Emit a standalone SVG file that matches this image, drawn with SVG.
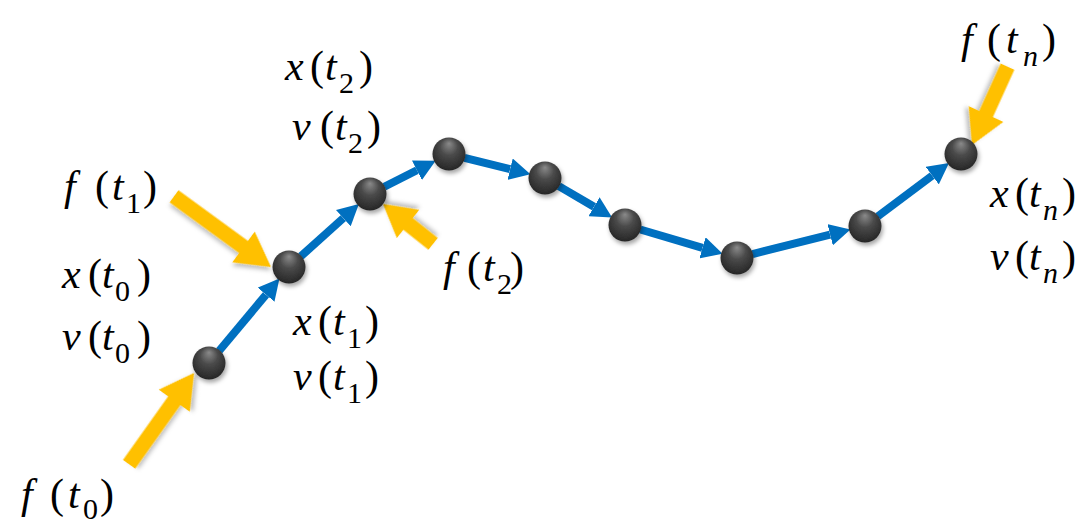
<svg xmlns="http://www.w3.org/2000/svg" width="1084" height="526" viewBox="0 0 1084 526">
<style>
.lbl{font-size:42px;fill:#000}
.i{font-style:italic}
.s{font-size:30px}
.conn{stroke:#0070C0;stroke-width:8;fill:none;marker-end:url(#bh)}
.yarrow{fill:#FFC000;filter:url(#ysh)}
.node{fill:url(#ng);filter:url(#nsh)}
</style>
<defs>
<radialGradient id="ng" cx="0.5" cy="0.4" r="0.6" fx="0.5" fy="0.18">
<stop offset="0" stop-color="#8a8a8a"/>
<stop offset="0.45" stop-color="#4a4a4a"/>
<stop offset="1" stop-color="#262626"/>
</radialGradient>
<filter id="nsh" x="-50%" y="-50%" width="200%" height="200%">
<feDropShadow dx="1.5" dy="3" stdDeviation="2" flood-color="#000" flood-opacity="0.35"/>
</filter>
<filter id="ysh" x="-30%" y="-30%" width="160%" height="160%">
<feDropShadow dx="2" dy="3" stdDeviation="2" flood-color="#000" flood-opacity="0.25"/>
</filter>
<marker id="bh" markerUnits="userSpaceOnUse" viewBox="0 -11 21 22" refX="0" refY="0" markerWidth="21" markerHeight="22" orient="auto">
<path d="M0,-11 L21,0 L0,11 z" fill="#0070C0"/>
</marker>
</defs>

<g id="connectors">
<line class="conn" x1="219.2" y1="350.7" x2="266.0" y2="294.7"/>
<line class="conn" x1="300.9" y1="256.3" x2="343.3" y2="218.1"/>
<line class="conn" x1="384.3" y1="186.8" x2="416.9" y2="170.3"/>
<line class="conn" x1="464.5" y1="157.9" x2="510.1" y2="169.2"/>
<line class="conn" x1="558.8" y1="186.1" x2="594.0" y2="206.8"/>
<line class="conn" x1="640.3" y1="229.5" x2="702.5" y2="247.8"/>
<line class="conn" x1="752.5" y1="254.1" x2="830.1" y2="234.7"/>
<line class="conn" x1="877.8" y1="216.4" x2="932.2" y2="175.6"/>
</g>

<g id="forces">
<g id="f0" transform="translate(194,373) rotate(-54.6)"><polygon class="yarrow" points="0,0 -34,-19 -34,-7.5 -112,-7.5 -112,7.5 -34,7.5 -34,19"/></g>
<g id="f1" transform="translate(271,267) rotate(36.1)"><polygon class="yarrow" points="0,0 -34,-19 -34,-7.5 -120,-7.5 -120,7.5 -34,7.5 -34,19"/></g>
<g id="f2" transform="translate(383,204) rotate(-141.5)"><polygon class="yarrow" points="0,0 -32,-18 -32,-7.5 -64,-7.5 -64,7.5 -32,7.5 -32,18"/></g>
<g id="fn" transform="translate(972,145) rotate(114.4)"><polygon class="yarrow" points="0,0 -34,-19 -34,-7.5 -86,-7.5 -86,7.5 -34,7.5 -34,19"/></g>
</g>

<g id="n0"><circle class="node" cx="209" cy="363" r="16.5"/></g>
<g id="n1"><circle class="node" cx="289" cy="267" r="16.5"/></g>
<g id="n2"><circle class="node" cx="370" cy="194" r="16.5"/></g>
<g id="n3"><circle class="node" cx="449" cy="154" r="16.5"/></g>
<g id="n4"><circle class="node" cx="545" cy="178" r="16.5"/></g>
<g id="n5"><circle class="node" cx="625" cy="225" r="16.5"/></g>
<g id="n6"><circle class="node" cx="737" cy="258" r="16.5"/></g>
<g id="n7"><circle class="node" cx="865" cy="226" r="16.5"/></g>
<g id="n8"><circle class="node" cx="961" cy="154" r="16.5"/></g>

<g id="labels">
<text class="lbl" font-family="'Liberation Serif', 'Times New Roman', Times, serif"><tspan class="i" x="21" y="508">f</tspan><tspan x="50" y="508">(</tspan><tspan class="i" x="68" y="508">t</tspan><tspan class="s" x="83" y="519">0</tspan><tspan x="100" y="508">)</tspan></text>

<text class="lbl" font-family="'Liberation Serif', 'Times New Roman', Times, serif"><tspan class="i" x="62" y="288">x</tspan><tspan x="88" y="288">(</tspan><tspan class="i" x="102" y="288">t</tspan><tspan class="s" x="115" y="301">0</tspan><tspan x="137" y="288">)</tspan></text>
<text class="lbl" font-family="'Liberation Serif', 'Times New Roman', Times, serif"><tspan class="i" x="62" y="350">v</tspan><tspan x="88" y="350">(</tspan><tspan class="i" x="102" y="350">t</tspan><tspan class="s" x="115" y="363">0</tspan><tspan x="137" y="350">)</tspan></text>

<text class="lbl" font-family="'Liberation Serif', 'Times New Roman', Times, serif"><tspan class="i" x="64" y="200">f</tspan><tspan x="95" y="200">(</tspan><tspan class="i" x="112" y="200">t</tspan><tspan class="s" x="126" y="213">1</tspan><tspan x="143" y="200">)</tspan></text>

<text class="lbl" font-family="'Liberation Serif', 'Times New Roman', Times, serif"><tspan class="i" x="293" y="335">x</tspan><tspan x="318" y="335">(</tspan><tspan class="i" x="333" y="335">t</tspan><tspan class="s" x="347" y="348">1</tspan><tspan x="365" y="335">)</tspan></text>
<text class="lbl" font-family="'Liberation Serif', 'Times New Roman', Times, serif"><tspan class="i" x="293" y="390">v</tspan><tspan x="318" y="390">(</tspan><tspan class="i" x="333" y="390">t</tspan><tspan class="s" x="347" y="403">1</tspan><tspan x="365" y="390">)</tspan></text>

<text class="lbl" font-family="'Liberation Serif', 'Times New Roman', Times, serif"><tspan class="i" x="285" y="80">x</tspan><tspan x="310" y="80">(</tspan><tspan class="i" x="325" y="80">t</tspan><tspan class="s" x="339" y="93">2</tspan><tspan x="359" y="80">)</tspan></text>
<text class="lbl" font-family="'Liberation Serif', 'Times New Roman', Times, serif"><tspan class="i" x="292" y="140">v</tspan><tspan x="320" y="140">(</tspan><tspan class="i" x="335" y="140">t</tspan><tspan class="s" x="348" y="153">2</tspan><tspan x="367" y="140">)</tspan></text>

<text class="lbl" font-family="'Liberation Serif', 'Times New Roman', Times, serif"><tspan class="i" x="443" y="281">f</tspan><tspan x="467" y="281">(</tspan><tspan class="i" x="483" y="281">t</tspan><tspan class="s" x="497" y="294">2</tspan><tspan x="510" y="281">)</tspan></text>

<text class="lbl" font-family="'Liberation Serif', 'Times New Roman', Times, serif"><tspan class="i" x="961" y="53">f</tspan><tspan x="987" y="53">(</tspan><tspan class="i" x="1006" y="53">t</tspan><tspan class="s i" x="1023" y="66">n</tspan><tspan x="1042" y="53">)</tspan></text>

<text class="lbl" font-family="'Liberation Serif', 'Times New Roman', Times, serif"><tspan class="i" x="990" y="207">x</tspan><tspan x="1015" y="207">(</tspan><tspan class="i" x="1029" y="207">t</tspan><tspan class="s i" x="1043" y="220">n</tspan><tspan x="1062" y="207">)</tspan></text>
<text class="lbl" font-family="'Liberation Serif', 'Times New Roman', Times, serif"><tspan class="i" x="990" y="270">v</tspan><tspan x="1015" y="270">(</tspan><tspan class="i" x="1029" y="270">t</tspan><tspan class="s i" x="1043" y="283">n</tspan><tspan x="1062" y="270">)</tspan></text>
</g>
</svg>
